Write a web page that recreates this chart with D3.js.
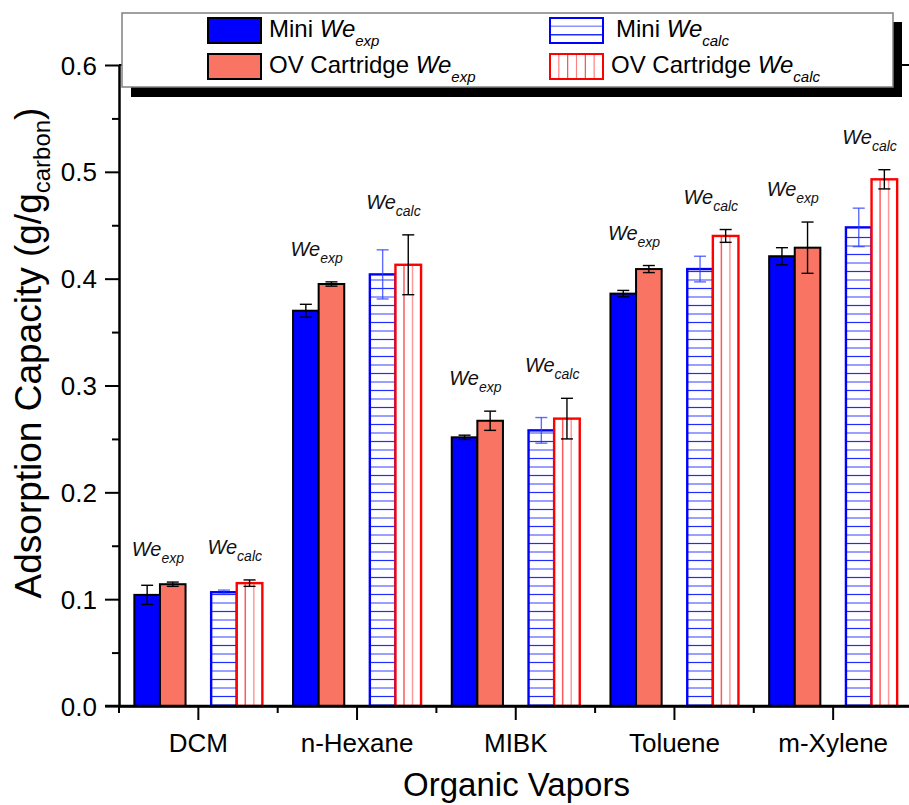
<!DOCTYPE html>
<html>
<head>
<meta charset="utf-8">
<script src="https://cdn.jsdelivr.net/npm/d3@7"></script>
<style>
  html, body { margin: 0; padding: 0; background: #fff; }
  svg { display: block; font-family: "Liberation Sans", Arial, sans-serif; }
</style>
</head>
<body>
<div id="chart"></div>
<script>
// ---------- data ----------
const categories = ['DCM', 'n-Hexane', 'MIBK', 'Toluene', 'm-Xylene']
const miniExp = [0.104, 0.370, 0.2515, 0.386, 0.421]
const miniExpErr = [0.009, 0.006, 0.002, 0.003, 0.008]
const ovExp = [0.114, 0.395, 0.267, 0.409, 0.429]
const ovExpErr = [0.002, 0.002, 0.009, 0.0033, 0.024]
const miniCalc = [0.1065, 0.404, 0.258, 0.409, 0.448]
const miniCalcErr = [0.002, 0.023, 0.012, 0.012, 0.018]
const ovCalc = [0.115, 0.413, 0.269, 0.440, 0.493]
const ovCalcErr = [0.003, 0.028, 0.019, 0.006, 0.009]
const yTicks = [0, 0.1, 0.2, 0.3, 0.4, 0.5, 0.6]

const W = 909
const H = 805
const FONT = '"Liberation Sans", Arial, sans-serif'

const svg = d3.select('#chart').append('svg')
  .attr('width', W)
  .attr('height', H)

// ---------- scales ----------
const x = d3.scaleBand()
  .domain(categories)
  .range([119, 912.5])

const y = d3.scaleLinear()
  .domain([0, 0.6])
  .range([706, 65])

// 5 slots per group, slot 2 is the gap between exp and calc pairs
const slot = d3.scaleBand()
  .domain([0, 1, 2, 3, 4])
  .range([-64, 64])

const series = [
  { key: 'miniExp', vals: miniExp, err: miniExpErr, slot: 0, fill: '#0000ff', stroke: '#000', errColor: '#000' },
  { key: 'ovExp', vals: ovExp, err: ovExpErr, slot: 1, fill: '#f97462', stroke: '#000', errColor: '#000' },
  { key: 'miniCalc', vals: miniCalc, err: miniCalcErr, slot: 3, fill: '#fff', stroke: '#0000ff', errColor: 'rgba(40,60,255,0.75)' },
  { key: 'ovCalc', vals: ovCalc, err: ovCalcErr, slot: 4, fill: '#fff', stroke: '#ff0000', errColor: '#000' }
]

const center = c => x(c) + x.bandwidth() / 2
const bw = slot.bandwidth()

/* ----------  BARS  ---------- */
const plot = svg.append('g')

series.forEach(s => {
  categories.forEach((c, i) => {
    const x0 = center(c) + slot(s.slot)
    const yTop = y(s.vals[i])
    const y0 = y(0)
    const g = plot.append('g')

    g.append('rect')
      .attr('x', x0)
      .attr('y', yTop)
      .attr('width', bw)
      .attr('height', y0 - yTop)
      .attr('fill', s.fill)

    // hatching for the calc bars
    if (s.key === 'miniCalc') {
      let k = 0
      for (let yy = y0 - 1; yy > yTop + 2; yy -= 8.5) {
        g.append('line')
          .attr('x1', x0).attr('x2', x0 + bw)
          .attr('y1', yy).attr('y2', yy)
          .attr('stroke', k % 2 ? '#1f2eff' : '#9aa0ff')
          .attr('stroke-width', k % 2 ? 1.2 : 2)
        k++
      }
    }
    if (s.key === 'ovCalc') {
      [1, 2].forEach(j => {
        g.append('line')
          .attr('x1', x0 + j * bw / 3).attr('x2', x0 + j * bw / 3)
          .attr('y1', yTop).attr('y2', y0)
          .attr('stroke', j === 1 ? '#ff5a5a' : '#ff9a9a')
          .attr('stroke-width', 1.5)
      })
    }

    g.append('rect')
      .attr('x', x0)
      .attr('y', yTop)
      .attr('width', bw)
      .attr('height', y0 - yTop)
      .attr('fill', 'none')
      .attr('stroke', s.stroke)
      .attr('stroke-width', s.fill === '#fff' ? 2.4 : 2)

    // error bar
    const cx = x0 + bw / 2
    const e1 = y(s.vals[i] + s.err[i])
    const e2 = y(s.vals[i] - s.err[i])
    g.append('line')
      .attr('x1', cx).attr('x2', cx)
      .attr('y1', e1).attr('y2', e2)
      .attr('stroke', s.errColor)
      .attr('stroke-width', 1.4)
    ;[e1, e2].forEach(ey => {
      g.append('line')
        .attr('x1', cx - 6).attr('x2', cx + 6)
        .attr('y1', ey).attr('y2', ey)
        .attr('stroke', s.errColor)
        .attr('stroke-width', 1.4)
    })
  })
})

/* ----------  WE ANNOTATIONS  ---------- */
function weLabel (cx, yBase, sub) {
  const t = svg.append('text')
    .attr('x', cx)
    .attr('y', yBase)
    .attr('text-anchor', 'middle')
    .style('font-family', FONT)
    .style('font-style', 'italic')
    .style('font-size', '20px')
    .attr('fill', '#111')
  t.append('tspan').text('We')
  t.append('tspan').attr('dy', 7).style('font-size', '14px').text(sub)
}

categories.forEach((c, i) => {
  const expTop = Math.max(miniExp[i] + miniExpErr[i], ovExp[i] + ovExpErr[i])
  const calcTop = Math.max(miniCalc[i] + miniCalcErr[i], ovCalc[i] + ovCalcErr[i])
  weLabel(center(c) + slot(1) - 2, y(expTop) - 26, 'exp')
  weLabel(center(c) + slot(4) - 2, y(calcTop) - 26, 'calc')
})

/* ----------  AXES  ---------- */
// top frame line (mostly hidden by legend)
svg.append('line')
  .attr('x1', 119).attr('x2', 912)
  .attr('y1', y(0.6)).attr('y2', y(0.6))
  .attr('stroke', '#000').attr('stroke-width', 2)

const yAxis = svg.append('g')
  .attr('transform', 'translate(119,0)')
  .call(d3.axisLeft(y).tickValues(yTicks).tickSize(14).tickSizeOuter(0)
    .tickPadding(8).tickFormat(d3.format('.1f')))
yAxis.selectAll('text').style('font-size', '26px').style('font-family', FONT).attr('dy', '0.35em')

const yMinor = d3.pairs(yTicks).map(([a, b]) => (a + b) / 2)
svg.append('g')
  .attr('transform', 'translate(119,0)')
  .call(d3.axisLeft(y).tickValues(yMinor).tickSize(7).tickSizeOuter(0).tickFormat(''))
  .select('.domain').remove()

const xAxis = svg.append('g')
  .attr('transform', `translate(0,${y(0)})`)
  .call(d3.axisBottom(x).tickSize(14).tickSizeOuter(0).tickPadding(14))
xAxis.selectAll('text').style('font-size', '26px').style('font-family', FONT)

const xMinor = categories.map(c => x(c)).concat([x.range()[1]])
svg.append('g').selectAll('line')
  .data(xMinor)
  .join('line')
  .attr('x1', d => d).attr('x2', d => d)
  .attr('y1', y(0)).attr('y2', y(0) + 7)
  .attr('stroke', '#000').attr('stroke-width', 2)

svg.selectAll('.domain').attr('stroke-width', 2.5)
svg.selectAll('.tick line').attr('stroke-width', 2)

// x-axis line extends over the y tick at 0
svg.append('line')
  .attr('x1', 105).attr('x2', 912)
  .attr('y1', y(0)).attr('y2', y(0))
  .attr('stroke', '#000').attr('stroke-width', 2.5)

/* ----------  AXIS TITLES  ---------- */
svg.append('text')
  .attr('x', (119 + 912) / 2 + 1)
  .attr('y', 796)
  .attr('text-anchor', 'middle')
  .style('font-family', FONT)
  .style('font-size', '33px')
  .text('Organic Vapors')

const yTitle = svg.append('text')
  .attr('transform', 'translate(41,353) rotate(-90)')
  .attr('text-anchor', 'middle')
  .style('font-family', FONT)
  .style('font-size', '37px')
yTitle.append('tspan').text('Adsorption Capacity (g/g')
yTitle.append('tspan').attr('dy', 9).style('font-size', '24px').text('carbon')
yTitle.append('tspan').attr('dy', -9).text(')')

/* ----------  LEGEND  ---------- */
const legend = svg.append('g')
legend.append('rect')
  .attr('x', 131).attr('y', 22)
  .attr('width', 771).attr('height', 75)
  .attr('fill', '#000')
legend.append('rect')
  .attr('x', 122).attr('y', 13)
  .attr('width', 771).attr('height', 74)
  .attr('fill', '#fff')
  .attr('stroke', '#808080')
  .attr('stroke-width', 1.5)

const legendItems = [
  { s: series[0], label: 'Mini ', sub: 'exp', sx: 208, sy: 18, tx: 269 },
  { s: series[1], label: 'OV Cartridge ', sub: 'exp', sx: 208, sy: 54, tx: 269 },
  { s: series[2], label: 'Mini ', sub: 'calc', sx: 550, sy: 18, tx: 616 },
  { s: series[3], label: 'OV Cartridge ', sub: 'calc', sx: 550, sy: 54, tx: 611 }
]

legendItems.forEach(it => {
  const sw = 53
  const sh = 25
  const g = legend.append('g')
  g.append('rect')
    .attr('x', it.sx).attr('y', it.sy)
    .attr('width', sw).attr('height', sh)
    .attr('fill', it.s.fill)
  if (it.s.key === 'miniCalc') {
    [1, 2].forEach(j => {
      g.append('line')
        .attr('x1', it.sx).attr('x2', it.sx + sw)
        .attr('y1', it.sy + j * sh / 3).attr('y2', it.sy + j * sh / 3)
        .attr('stroke', j === 1 ? '#8f95ff' : '#1f2eff')
        .attr('stroke-width', 1.5)
    })
  }
  if (it.s.key === 'ovCalc') {
    d3.range(1, 6).forEach(j => {
      g.append('line')
        .attr('x1', it.sx + j * sw / 6).attr('x2', it.sx + j * sw / 6)
        .attr('y1', it.sy).attr('y2', it.sy + sh)
        .attr('stroke', j % 2 ? '#ff8080' : '#ff4a4a')
        .attr('stroke-width', 1.2)
    })
  }
  g.append('rect')
    .attr('x', it.sx).attr('y', it.sy)
    .attr('width', sw).attr('height', sh)
    .attr('fill', 'none')
    .attr('stroke', it.s.stroke)
    .attr('stroke-width', 2)

  const t = g.append('text')
    .attr('x', it.tx)
    .attr('y', it.sy + 19)
    .style('font-family', FONT)
    .style('font-size', '24px')
  t.append('tspan').text(it.label)
  t.append('tspan').style('font-style', 'italic').text('We')
  t.append('tspan').attr('dy', 9).style('font-style', 'italic').style('font-size', '15px').text(it.sub)
})
</script>
</body>
</html>
